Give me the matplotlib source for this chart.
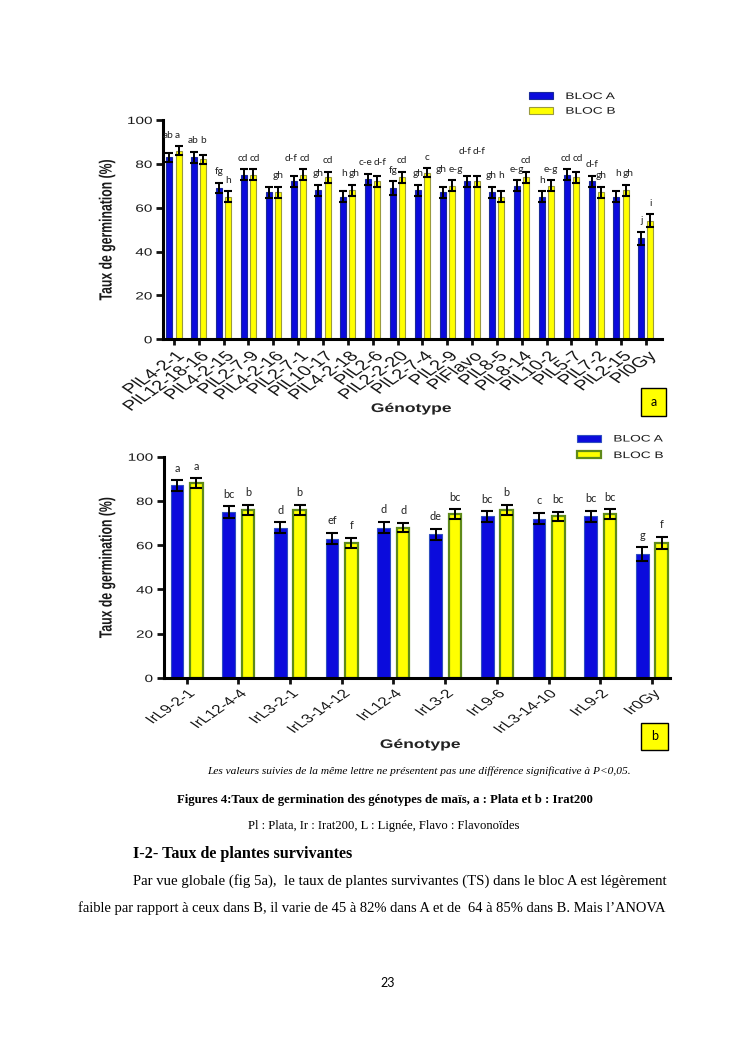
import matplotlib
matplotlib.use('Agg')
import matplotlib.pyplot as plt
from matplotlib import patheffects
from matplotlib.patches import Rectangle
from matplotlib.transforms import Affine2D
import numpy as np

# --- data, figure a (Plata) ---
geno_a = ['PlL4-2-1', 'PlL12-18-16', 'PlL4-2-15', 'PlL2-7-9', 'PlL4-2-16', 'PlL2-7-1',
          'PlL10-17', 'PlL4-2-18', 'PlL2-6', 'PlL2-2-20', 'PlL2-7-4', 'PlL2-9',
          'PlFlavo', 'PlL8-5', 'PlL8-14', 'PlL10-2', 'PlL5-7', 'PlL7-2', 'PlL2-15', 'Pl0Gy']
bloc_a_a = [83, 83, 69, 75, 67, 72, 68, 65, 73, 69, 68, 67, 72, 67, 70, 65, 75, 72, 65, 46]
bloc_b_a = [86, 82, 65, 75, 67, 75, 74, 68, 72, 74, 76, 70, 72, 65, 74, 70, 74, 67, 68, 54]
err_a_a = [2, 2.5, 2.5, 2.5, 2.5, 2.5, 2.5, 2.5, 2.5, 3, 2.5, 2.5, 2.5, 2.5, 2.5, 2.5, 2.5, 2.5, 2.5, 3]
err_b_a = [2, 2, 2.5, 2.5, 2.5, 2.5, 2.5, 2.5, 2.5, 2.5, 2, 2.5, 2.5, 2.5, 2.5, 2.5, 2.5, 2.5, 2.5, 3]
let_a_a = ['ab', 'ab', 'fg', 'cd', '', 'd-f', 'gh', 'h', 'c-e', 'fg', 'gh', 'gh', 'd-f', 'gh',
           'e-g', 'h', 'cd', 'd-f', 'h', 'j']
let_b_a = ['a', 'b', 'h', 'cd', 'gh', 'cd', 'cd', 'gh', 'd-f', 'cd', 'c', 'e-g', 'd-f', 'h',
           'cd', 'e-g', 'cd', 'gh', 'gh', 'i']

# --- data, figure b (Irat200) ---
geno_b = ['IrL9-2-1', 'IrL12-4-4', 'IrL3-2-1', 'IrL3-14-12', 'IrL12-4', 'IrL3-2',
          'IrL9-6', 'IrL3-14-10', 'IrL9-2', 'Ir0Gy']
bloc_a_b = [87, 75, 68, 63, 68, 65, 73, 72, 73, 56]
bloc_b_b = [88, 76, 76, 61, 68, 74, 76, 73, 74, 61]
err_a_b = [2.3, 2.5, 2.3, 2.5, 2.5, 2.5, 2.3, 2.5, 2.5, 3]
err_b_b = [2.2, 2.2, 2.2, 2.2, 2.2, 2.2, 2.2, 2.2, 2.2, 2.7]
let_a_b = ['a', 'bc', 'd', 'ef', 'd', 'de', 'bc', 'c', 'bc', 'g']
let_b_b = ['a', 'b', 'b', 'f', 'd', 'bc', 'b', 'bc', 'bc', 'f']

BLUE = '#0b0bdc'
YELLOW = '#ffff00'
SANS = ['Liberation Sans', 'DejaVu Sans']
SERIF = ['Liberation Serif', 'DejaVu Serif']
LETTERS = ['Lato', 'DejaVu Sans']
SX = 1.45  # the chart images in the page are stretched sideways

W, H = 745, 1053
fig = plt.figure(figsize=(W / 100, H / 100), dpi=100)


def fx(px):
    return px / W


def fy(py):
    return 1 - py / H


class HStretch(patheffects.AbstractPathEffect):
    """Stretch a text horizontally around its anchor point."""

    def __init__(self, sx, text):
        super().__init__()
        self.sx = sx
        self.text = text

    def draw_path(self, renderer, gc, tpath, affine, rgbFace=None):
        x0, y0 = self.text.get_transform().transform(self.text.get_unitless_position())
        aff = affine + Affine2D().translate(-x0, -y0).scale(self.sx, 1).translate(x0, y0)
        renderer.draw_path(gc, tpath, aff, rgbFace)


def stretch(t, sx=SX):
    t.set_path_effects([HStretch(sx, t)])
    return t


letter_groups = []


def draw_chart(rect, names, va, vb, ea, eb, la, lb, xlim, width, off,
               yedge, yedge_lw, bedge, cap, tick_fs, let_fs, leg_xy, leg_sp, pair_labels):
    ax = fig.add_axes(rect)
    x = np.arange(len(names))
    ba = ax.bar(x - off, va, width, color=BLUE, edgecolor=bedge, linewidth=0.8,
                label='BLOC A', zorder=2)
    bb = ax.bar(x + off, vb, width, color=YELLOW, edgecolor=yedge, linewidth=yedge_lw,
                label='BLOC B', zorder=2)
    ax.errorbar(x - off, va, yerr=ea, fmt='none', ecolor='black', elinewidth=1.4,
                capsize=cap, capthick=1.5, zorder=3)
    ax.errorbar(x + off, vb, yerr=eb, fmt='none', ecolor='black', elinewidth=1.4,
                capsize=cap, capthick=1.5, zorder=3)
    kw = dict(va='bottom', fontsize=let_fs, family=LETTERS, color='#222222', zorder=4)
    for i in range(len(names)):
        ya = va[i] + ea[i] + 3
        yb = vb[i] + eb[i] + 3
        if pair_labels and la[i] and lb[i] and abs(ya - yb) <= 3:
            # letters on one line, side by side over the pair
            y = max(ya, yb)
            letter_groups.append([ax.text(x[i] - 0.015, y, la[i], ha='right', **kw),
                                  ax.text(x[i] + 0.045, y, lb[i], ha='left', **kw)])
            continue
        if la[i]:
            letter_groups.append([ax.text(x[i] - off, ya, la[i], ha='center', **kw)])
        if lb[i]:
            letter_groups.append([ax.text(x[i] + off, yb, lb[i], ha='center', **kw)])
    ax.set_xlim(*xlim)
    ax.set_ylim(0, 100)
    ax.set_yticks([0, 20, 40, 60, 80, 100])
    ax.set_xticks(x)
    ax.set_xticklabels(names, rotation=45, ha='right', rotation_mode='anchor',
                       fontsize=tick_fs, family=SANS, color='#1a1a1a')
    for t in ax.get_xticklabels():
        stretch(t)
    for t in ax.get_yticklabels():
        t.set_family(SANS)
        t.set_fontsize(7.6)
        t.set_color('#1a1a1a')
        stretch(t)
    for s in ['top', 'right']:
        ax.spines[s].set_visible(False)
    for s in ['left', 'bottom']:
        ax.spines[s].set_linewidth(2.2)
    ax.tick_params(axis='y', direction='out', length=5, width=2, pad=3, color='#111111')
    ax.tick_params(axis='x', direction='out', length=4, width=2, pad=3, color='#111111')
    lab = ax.set_ylabel('Taux de germination (%)', fontsize=8.8, fontweight='bold',
                        family=SANS, color='#1a1a1a')
    ax.yaxis.set_label_coords(-0.095, 0.5)
    stretch(lab)
    leg = ax.legend(handles=[ba, bb], loc='upper left', bbox_to_anchor=leg_xy,
                    bbox_transform=fig.transFigure, frameon=False,
                    prop={'family': SANS, 'size': 6.8}, borderpad=0, borderaxespad=0,
                    handlelength=2.55, handleheight=0.7, handletextpad=1.3,
                    labelspacing=leg_sp)
    for t in leg.get_texts():
        t.set_color('#1a1a1a')
        stretch(t)
    return ax


draw_chart([fx(163.3), fy(339.3), fx(662) - fx(163.3), fy(120) - fy(339.3)],
           geno_a, bloc_a_a, bloc_b_a, err_a_a, err_b_a, let_a_a, let_b_a,
           (-0.43, 19.65), 0.24, 0.185, '#9a9a40', 0.8, '#1a2a9a', 2.6, 10.2, 7.3,
           (fx(529), fy(92)), 0.6, True)

draw_chart([fx(164), fy(678), fx(670) - fx(164), fy(456.7) - fy(678)],
           geno_b, bloc_a_b, bloc_b_b, err_a_b, err_b_b, let_a_b, let_b_b,
           (-0.44, 9.35), 0.245, 0.187, '#5f8a1a', 1.6, '#3050c0', 4.2, 8.7, 7.8,
           (fx(577), fy(434.5)), 0.8, False)

# lift a group of letters one line up when it runs into a previous one
fig.canvas.draw()
rend = fig.canvas.get_renderer()
for k, grp in enumerate(letter_groups):
    for _ in range(3):
        mine = [t.get_window_extent(rend).expanded(1.05, 0.8) for t in grp]
        hit = any(b.overlaps(o.get_window_extent(rend).expanded(1.0, 0.8))
                  for b in mine for g in letter_groups[:k] for o in g)
        if not hit:
            break
        for t in grp:
            t.set_y(t.get_position()[1] + 6)

# x axis titles
for (px, py) in [(411, 409), (420, 745)]:
    stretch(fig.text(fx(px), fy(py), 'Génotype', ha='center', va='center', fontsize=9,
                     fontweight='bold', family=SANS, color='#222222'), 1.4)

# small yellow panel boxes
for (x0, y0, x1, y1, lab) in [(641, 388, 666, 416, 'a'), (641, 723, 668, 750, 'b')]:
    fig.patches.append(Rectangle((fx(x0), fy(y1)), fx(x1) - fx(x0), fy(y0) - fy(y1),
                                 transform=fig.transFigure, facecolor=YELLOW,
                                 edgecolor='black', linewidth=1))
    fig.text(fx((x0 + x1) / 2), fy((y0 + y1) / 2), lab, ha='center', va='center',
             fontsize=9, family=LETTERS)

# caption and page text
fig.text(fx(419), fy(771), 'Les valeurs suivies de la même lettre ne présentent pas une '
         'différence significative à P<0,05.', ha='center', va='center', fontsize=8.2,
         style='italic', family=SERIF)
fig.text(fx(384.5), fy(800), 'Figures 4:Taux de germination des génotypes de maïs, '
         'a : Plata et b : Irat200', ha='center', va='center', fontsize=9.15,
         fontweight='bold', family=SERIF)
fig.text(fx(383.5), fy(826), 'Pl : Plata, Ir : Irat200, L : Lignée, Flavo : Flavonoïdes',
         ha='center', va='center', fontsize=9.05, family=SERIF)
fig.text(fx(133), fy(854), 'I-2- Taux de plantes survivantes', ha='left', va='center',
         fontsize=11.6, fontweight='bold', family=SERIF)
fig.text(fx(133), fy(881), 'Par vue globale (fig 5a),  le taux de plantes survivantes (TS) '
         'dans le bloc A est légèrement', ha='left', va='center', fontsize=10.6, family=SERIF)
fig.text(fx(78), fy(908), 'faible par rapport à ceux dans B, il varie de 45 à 82% dans A '
         'et de  64 à 85% dans B. Mais l’ANOVA', ha='left', va='center', fontsize=10.45,
         family=SERIF)
fig.text(fx(388), fy(983), '23', ha='center', va='center', fontsize=9, family=LETTERS)

fig.savefig('out.png', dpi=100)
